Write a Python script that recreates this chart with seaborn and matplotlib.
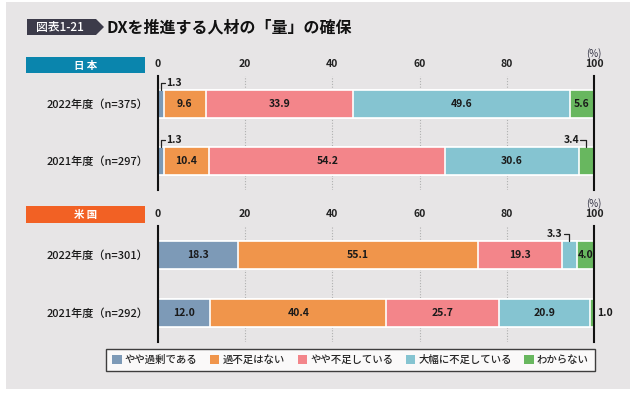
import matplotlib
matplotlib.use("Agg")
import matplotlib.pyplot as plt
import seaborn as sns
import numpy as np
import pandas as pd
from matplotlib.patches import Rectangle, Polygon, Patch

sns.set_theme(style="white")
plt.rcParams['font.family'] = ['Noto Sans CJK JP', 'DejaVu Sans']

# ---------------- data ----------------
series = ["やや過剰である", "過不足はない", "やや不足している", "大幅に不足している", "わからない"]
colors = ["#7d9ab7", "#f0954b", "#f3858a", "#85c4d1", "#68b75f"]

jp_labels = ["2022年度（n=375）", "2021年度（n=297）"]
jp_2022 = [1.3, 9.6, 33.9, 49.6, 5.6]
jp_2021 = [1.3, 10.4, 54.2, 30.6, 3.4]

us_labels = ["2022年度（n=301）", "2021年度（n=292）"]
us_2022 = [18.3, 55.1, 19.3, 3.3, 4.0]
us_2021 = [12.0, 40.4, 25.7, 20.9, 1.0]

ticks = [0, 20, 40, 60, 80, 100]

W, H = 637, 396
fig = plt.figure(figsize=(W / 100, H / 100), dpi=100)
fig.patch.set_facecolor("white")


def fx(px):
    return px / W


def fy(py):
    return 1 - py / H


# background panel
fig.patches.append(Rectangle((fx(6), fy(389)), fx(624), 387 / H, transform=fig.transFigure,
                             facecolor="#e7e5e6", edgecolor="none", zorder=-10))

# title badge
badge = [(27, 19), (96, 19), (104, 27), (96, 35), (27, 35)]
fig.patches.append(Polygon([(fx(a), fy(b)) for a, b in badge], closed=True, transform=fig.transFigure,
                           facecolor="#3c3b4a", edgecolor="none"))
fig.text(fx(60), fy(27.5), "図表1-21", color="white", fontsize=8.5, fontweight="medium",
         ha="center", va="center")
fig.text(fx(107), fy(27.5), "DXを推進する人材の「量」の確保", color="#111111", fontsize=11.5,
         fontweight="bold", ha="left", va="center")


def header(y0, y1, text, col):
    fig.patches.append(Rectangle((fx(26), fy(y1)), fx(119), (y1 - y0) / H, transform=fig.transFigure,
                                 facecolor=col, edgecolor="none"))
    fig.text(fx(85.5), fy((y0 + y1) / 2 + 0.5), text, color="white", fontsize=7.5, fontweight="bold",
             ha="center", va="center")


header(57, 73, "日 本", "#0a85ad")
header(206, 223, "米 国", "#f26124")

VFS = 7.5


def panel(top_px, bottom_px, labels, rows, callouts, pct_y):
    ax = fig.add_axes([fx(158), fy(bottom_px), fx(436), (bottom_px - top_px) / H])
    ax.set_facecolor("none")
    df = pd.DataFrame(rows, columns=series)
    df.insert(0, "year", labels)
    cum = df[series].cumsum(axis=1)
    for k in range(len(series) - 1, -1, -1):
        sns.barplot(x=cum[series[k]].values, y=df["year"], orient="h", color=colors[k], saturation=1,
                    width=0.48, edgecolor="white", linewidth=1.2, ax=ax)
    # value labels
    for i in range(len(df)):
        start = 0
        for k, s in enumerate(series):
            v = df.loc[i, s]
            if v >= 4:
                ax.text(start + v / 2, i, f"{v:.1f}", ha="center", va="center", fontsize=VFS,
                        fontweight="bold", color="#1a1a1a")
            start += v
    # callouts
    for (i, k, style) in callouts:
        v = df.loc[i, series[k]]
        start = cum.loc[i, series[k]] - v
        cx = start + v / 2
        top = i - 0.24
        up = i - 0.37
        if style == "ul":
            ax.plot([cx, cx, cx + 1.0], [top, up, up], color="#222222", lw=0.9, clip_on=False)
            ax.text(cx + 1.2, up, f"{v:.1f}", ha="left", va="center", fontsize=VFS, fontweight="bold",
                    color="#1a1a1a")
        elif style == "ur":
            ax.plot([cx - 1.3, cx, cx], [up, up, top], color="#222222", lw=0.9, clip_on=False)
            ax.text(cx - 1.5, up, f"{v:.1f}", ha="right", va="center", fontsize=VFS, fontweight="bold",
                    color="#1a1a1a")
        elif style == "r":
            ax.text(start + v + 0.7, i, f"{v:.1f}", ha="left", va="center", fontsize=VFS,
                    fontweight="bold", color="#1a1a1a")
    ax.set_xlim(0, 100)
    ax.set_ylim(1.5, -0.5)
    ax.set_xticks(ticks)
    ax.xaxis.tick_top()
    ax.tick_params(axis="x", length=0, pad=5, labelsize=7.5, labelcolor="#222222")
    for t in ax.get_xticklabels():
        t.set_fontweight("bold")
    ax.tick_params(axis="y", length=0, pad=7, labelsize=8, labelcolor="#1a1a1a")
    for t in ax.get_yticklabels():
        t.set_fontweight("medium")
    ax.set_xlabel("")
    ax.set_ylabel("")
    ax.xaxis.grid(True, linestyle=(0, (1, 1.5)), color="#b0b0b0", lw=0.8)
    ax.set_axisbelow(True)
    for s in ["top", "bottom"]:
        ax.spines[s].set_visible(False)
    for s in ["left", "right"]:
        ax.spines[s].set_visible(True)
        ax.spines[s].set_color("#111111")
        ax.spines[s].set_linewidth(1.5)
        ax.spines[s].set_zorder(5)
    fig.text(fx(594), fy(pct_y), "(%)", ha="center", va="center", fontsize=7, color="#333344")
    return ax


panel(75.5, 189.5, jp_labels, [jp_2022, jp_2021], [(0, 0, "ul"), (1, 0, "ul"), (1, 4, "ur")], 54)
panel(226, 342, us_labels, [us_2022, us_2021], [(0, 3, "ur"), (1, 4, "r")], 204)

handles = [Patch(facecolor=c, edgecolor="none") for c in colors]
leg = fig.legend(handles, series, loc="center", bbox_to_anchor=(fx(106), fy(373), fx(489), 26 / H),
                 mode="expand", ncol=5, frameon=True, fancybox=False, edgecolor="#111111",
                 facecolor="white", fontsize=7.5, handlelength=0.9, handleheight=0.9,
                 handletextpad=0.3, borderaxespad=0, borderpad=0.6)
leg.get_frame().set_linewidth(1.0)
for t in leg.get_texts():
    t.set_fontweight("medium")

fig.savefig("out.png", dpi=100)
